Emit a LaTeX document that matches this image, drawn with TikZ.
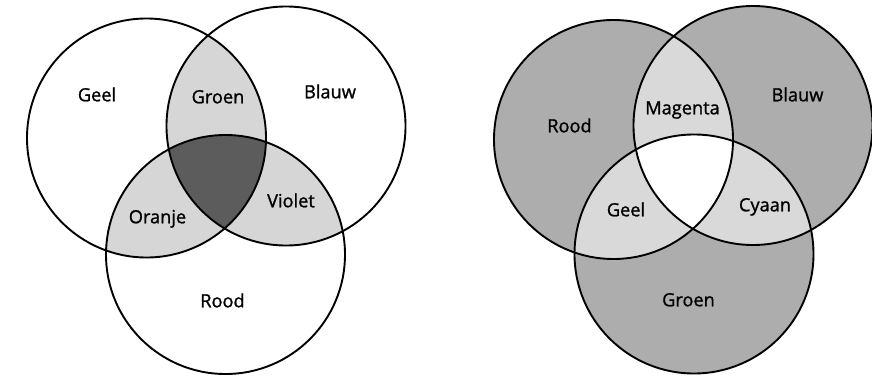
\documentclass[tikz,border=0pt]{standalone}
\usepackage{fontspec}
\setmainfont{Open Sans}
\newfontfamily\labfont{Open Sans}[RawFeature={embolden=1.2}]
\tikzset{
  ring/.style={draw=black, line width=1.9pt},
  lab/.style={font=\labfont\fontsize{18.2}{20}\selectfont, text height=1.6ex, text depth=0pt, inner sep=0pt, anchor=center},
}
\definecolor{pairL}{HTML}{D6D6D6}
\definecolor{tripL}{HTML}{5C5C5C}
\definecolor{oneR}{HTML}{ADADAD}
\definecolor{pairR}{HTML}{D9D9D9}
\begin{document}
\begin{tikzpicture}[x=1pt,y=-1pt]
\useasboundingbox (0,0) rectangle (872,377);
\def\R{119.5}
% centres
\coordinate (A) at (146.5,138);  % Geel
\coordinate (B) at (286,126);    % Blauw
\coordinate (C) at (225.5,254.5);% Rood
\coordinate (D) at (613.5,139.5);% Rood (right)
\coordinate (E) at (753,125.5);  % Blauw (right)
\coordinate (F) at (694,254);    % Groen (right)

% ---- left diagram fills
\begin{scope}\clip (A) circle (\R); \fill[pairL] (B) circle (\R); \end{scope}
\begin{scope}\clip (A) circle (\R); \fill[pairL] (C) circle (\R); \end{scope}
\begin{scope}\clip (B) circle (\R); \fill[pairL] (C) circle (\R); \end{scope}
\begin{scope}\clip (A) circle (\R); \clip (B) circle (\R); \fill[tripL] (C) circle (\R); \end{scope}

% ---- right diagram fills
\fill[oneR] (D) circle (\R);
\fill[oneR] (E) circle (\R);
\fill[oneR] (F) circle (\R);
\begin{scope}\clip (D) circle (\R); \fill[pairR] (E) circle (\R); \end{scope}
\begin{scope}\clip (D) circle (\R); \fill[pairR] (F) circle (\R); \end{scope}
\begin{scope}\clip (E) circle (\R); \fill[pairR] (F) circle (\R); \end{scope}
\begin{scope}\clip (D) circle (\R); \clip (E) circle (\R); \fill[white] (F) circle (\R); \end{scope}

% ---- outlines
\foreach \c in {A,B,C,D,E,F} { \draw[ring] (\c) circle (\R); }

% ---- labels left
\node[lab] (geel)   at (97,97)    {Geel};
\node[lab] (groen)  at (218,99)   {Groen};
\node[lab] (blauw)  at (330,94)   {Blauw};
\node[lab] (oranje) at (157.5,219){Oranje};
\node[lab] (violet) at (291,203)  {Violet};
\node[lab] (rood)   at (222.5,303){Rood};

% ---- labels right
\node[lab] (roodR)    at (569.5,128) {Rood};
\node[lab] (magenta)  at (682.5,110) {Magenta};
\node[lab] (blauwR)   at (797.5,97)  {Blauw};
\node[lab] (geelR)    at (626,212)   {Geel};
\node[lab] (cyaan)    at (765,207)   {Cyaan};
\node[lab] (groenR)   at (688.5,302) {Groen};
\end{tikzpicture}
\end{document}
